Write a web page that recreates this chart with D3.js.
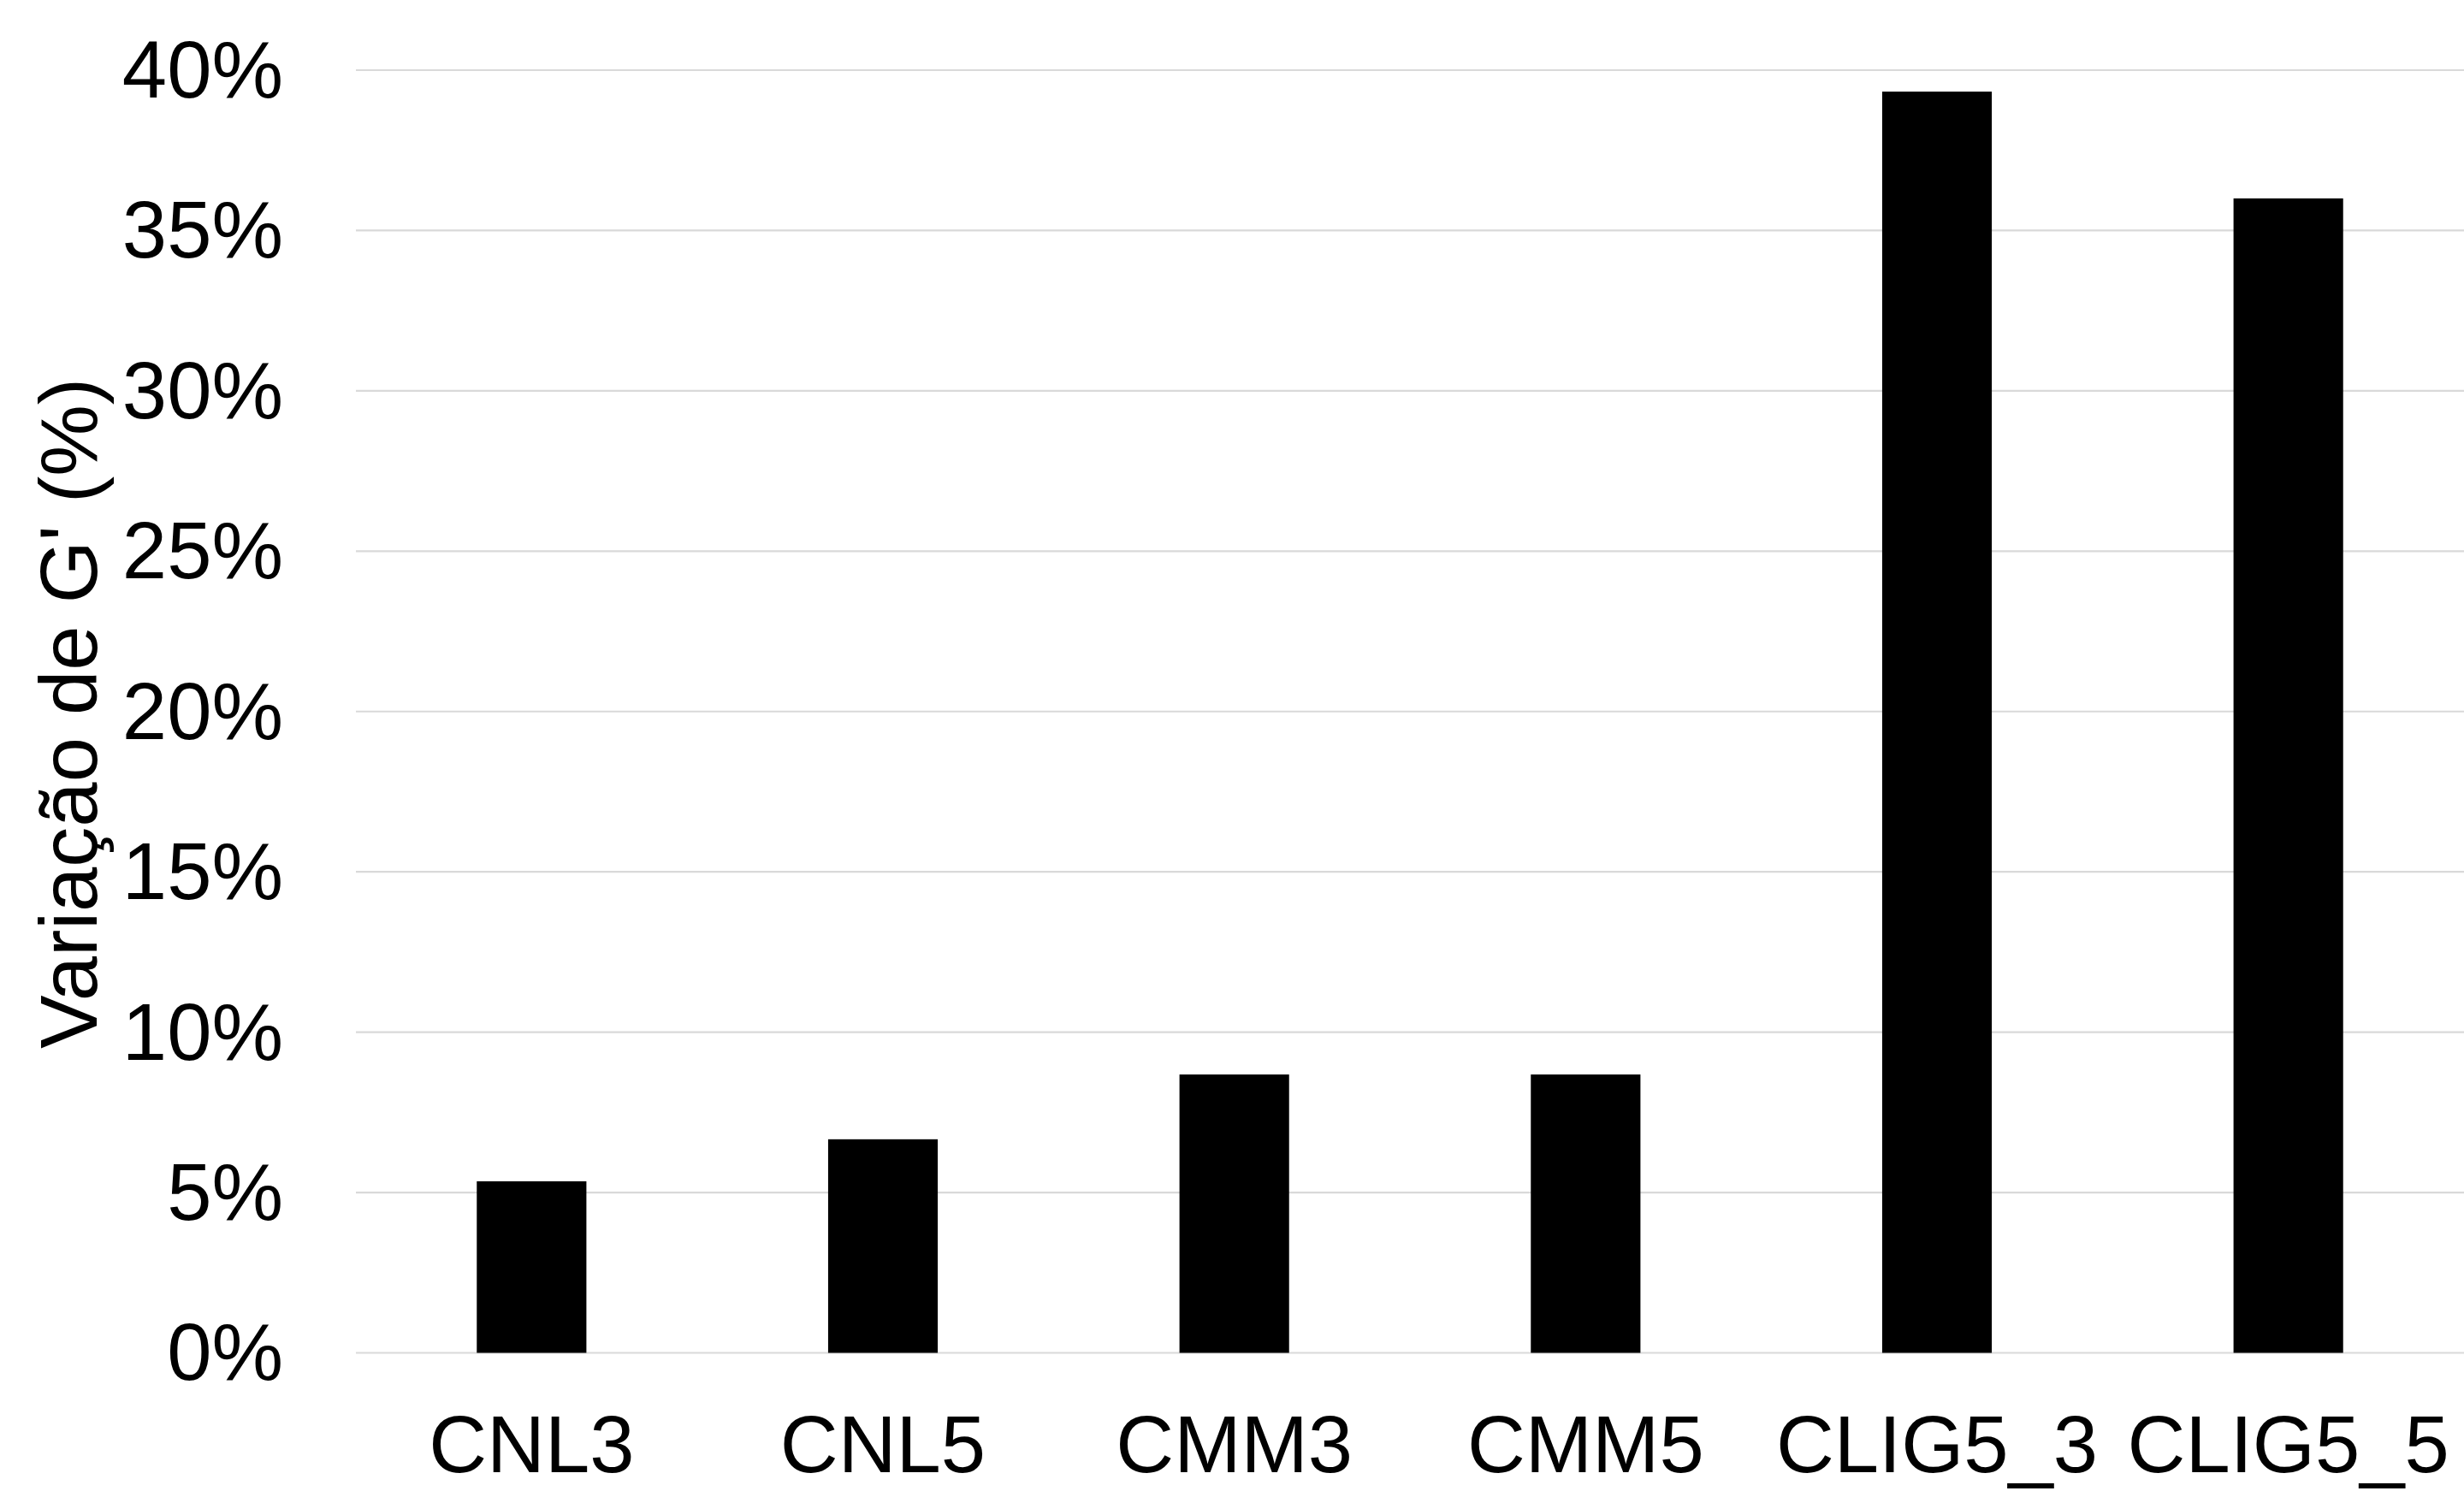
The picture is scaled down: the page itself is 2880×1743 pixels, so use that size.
<!DOCTYPE html>
<html>
<head>
<meta charset="utf-8">
<script src="https://cdn.jsdelivr.net/npm/d3@7"></script>
<style>
  html, body { margin: 0; padding: 0; background: #ffffff; }
  svg { display: block; }
  text { font-family: "Liberation Sans", Arial, sans-serif; fill: #000000; }
</style>
</head>
<body>
<svg id="chart" width="2880" height="1743"></svg>
<script>
// Variation of G' per sample
const categories = ["CNL3", "CNL5", "CMM3", "CMM5", "CLIG5_3", "CLIG5_5"];
const values = [0.0535, 0.0666, 0.0868, 0.0868, 0.3933, 0.3600];
const yTicks = [0, 0.05, 0.10, 0.15, 0.20, 0.25, 0.30, 0.35, 0.40];
const yTitle = "Variação de G' (%)";

const W = 2880, H = 1743;
const plot = { left: 416, right: 2880, top: 82, bottom: 1581.5 };
const fontSize = 94;

const svg = d3.select("#chart");

const x = d3.scaleBand()
  .domain(categories)
  .range([plot.left, plot.right])
  .paddingInner(0.688)
  .paddingOuter(0.344);

const y = d3.scaleLinear()
  .domain([0, 0.40])
  .range([plot.bottom, plot.top]);

// horizontal gridlines
svg.append("g")
  .selectAll("line")
  .data(yTicks)
  .join("line")
  .attr("x1", plot.left)
  .attr("x2", plot.right)
  .attr("y1", d => y(d))
  .attr("y2", d => y(d))
  .attr("stroke", "#d9d9d9")
  .attr("stroke-width", 2.2);

// bars
svg.append("g")
  .selectAll("rect")
  .data(values)
  .join("rect")
  .attr("x", (d, i) => x(categories[i]))
  .attr("width", x.bandwidth())
  .attr("y", d => y(d))
  .attr("height", d => y(0) - y(d))
  .attr("fill", "#000000");

// y tick labels
const fmt = d3.format(".0%");
svg.append("g")
  .selectAll("text")
  .data(yTicks)
  .join("text")
  .attr("x", 331)
  .attr("y", d => y(d))
  .attr("dy", "0.34em")
  .attr("text-anchor", "end")
  .attr("font-size", fontSize)
  .text(d => fmt(d));

// category labels
svg.append("g")
  .selectAll("text")
  .data(categories)
  .join("text")
  .attr("x", d => x(d) + x.bandwidth() / 2)
  .attr("y", 1721)
  .attr("text-anchor", "middle")
  .attr("font-size", fontSize)
  .text(d => d);

// y axis title
svg.append("text")
  .attr("transform", "translate(113," + 834 + ") rotate(-90)")
  .attr("text-anchor", "middle")
  .attr("font-size", fontSize)
  .text(yTitle);
</script>
</body>
</html>
